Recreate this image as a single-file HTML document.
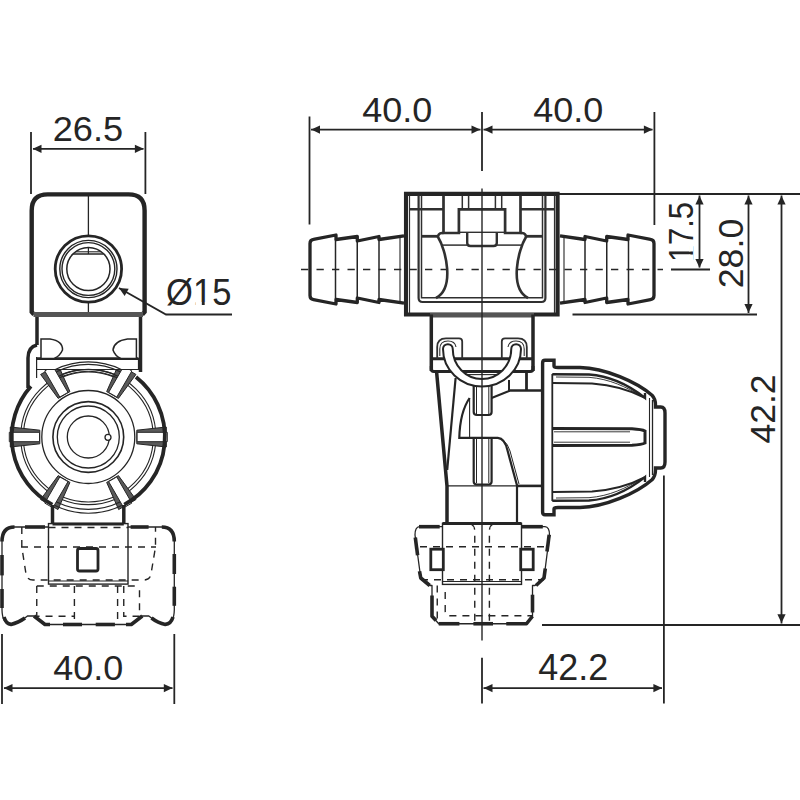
<!DOCTYPE html>
<html><head><meta charset="utf-8"><style>
html,body{margin:0;padding:0;background:#fff;}
svg{display:block;}
text{font-family:"Liberation Sans",sans-serif;fill:#252525;}
</style></head><body>
<svg width="800" height="800" viewBox="0 0 800 800">
<defs><clipPath id="kA" clipPathUnits="userSpaceOnUse"><path clip-rule="evenodd" d="M-60,-160 H400 V60 H-60 Z M7,-9 V2 H24.8 V-9 Z M34.2,-9 V2 H53 V-9 Z"/></clipPath><clipPath id="kB" clipPathUnits="userSpaceOnUse"><path clip-rule="evenodd" d="M-60,-160 H400 V60 H-60 Z M85,-9 V2 H103.3 V-9 Z M111.7,-9 V2 H131 V-9 Z"/></clipPath></defs>
<rect width="800" height="800" fill="#fff"/>
<circle cx="88.30" cy="437.00" r="67.60" stroke="#252525" stroke-width="1.1" fill="none" />
<circle cx="88.30" cy="437.00" r="65.00" stroke="#252525" stroke-width="1.1" fill="none" />
<circle cx="88.30" cy="437.00" r="46.50" stroke="#252525" stroke-width="1.3" fill="none" />
<circle cx="88.30" cy="437.00" r="35.40" stroke="#252525" stroke-width="1.6" fill="none" />
<circle cx="88.30" cy="437.00" r="31.00" stroke="#252525" stroke-width="1.3" fill="none" />
<circle cx="88.30" cy="437.00" r="21.00" stroke="#252525" stroke-width="1.3" fill="none" />
<circle cx="108.00" cy="437.30" r="3.00" stroke="#252525" stroke-width="1.3" fill="#fff" />
<path d="M136.80,443.80 L166.30,447.00 L166.30,427.00 L136.80,430.20 Z" stroke="#252525" stroke-width="1.0" fill="#5a5a5a" />
<path d="M137.10,441.70 L167.30,441.70 L167.30,432.30 L137.10,432.30 Z" stroke="#252525" stroke-width="1.0" fill="#fff" />
<path d="M106.66,482.40 L118.64,509.55 L135.96,499.55 L118.44,475.60 Z" stroke="#252525" stroke-width="1.0" fill="#5a5a5a" />
<path d="M108.63,481.61 L123.73,507.77 L131.87,503.07 L116.77,476.91 Z" stroke="#252525" stroke-width="1.0" fill="#fff" />
<path d="M58.16,475.60 L40.64,499.55 L57.96,509.55 L69.94,482.40 Z" stroke="#252525" stroke-width="1.0" fill="#5a5a5a" />
<path d="M59.83,476.91 L44.73,503.07 L52.87,507.77 L67.97,481.61 Z" stroke="#252525" stroke-width="1.0" fill="#fff" />
<path d="M39.80,430.20 L10.30,427.00 L10.30,447.00 L39.80,443.80 Z" stroke="#252525" stroke-width="1.0" fill="#5a5a5a" />
<path d="M39.50,432.30 L9.30,432.30 L9.30,441.70 L39.50,441.70 Z" stroke="#252525" stroke-width="1.0" fill="#fff" />
<path d="M69.94,391.60 L57.96,364.45 L40.64,374.45 L58.16,398.40 Z" stroke="#252525" stroke-width="1.0" fill="#5a5a5a" />
<path d="M67.97,392.39 L52.87,366.23 L44.73,370.93 L59.83,397.09 Z" stroke="#252525" stroke-width="1.0" fill="#fff" />
<path d="M118.44,398.40 L135.96,374.45 L118.64,364.45 L106.66,391.60 Z" stroke="#252525" stroke-width="1.0" fill="#5a5a5a" />
<path d="M116.77,397.09 L131.87,370.93 L123.73,366.23 L108.63,392.39 Z" stroke="#252525" stroke-width="1.0" fill="#fff" />
<path d="M135.98,377.05 A76.6,76.6 0 0 1 124.26,504.63" stroke="#252525" stroke-width="3.8" fill="none" />
<path d="M52.34,504.63 A76.6,76.6 0 0 1 30.93,386.24" stroke="#252525" stroke-width="3.8" fill="none" />
<path d="M120.04,502.07 A72.4,72.4 0 0 1 56.56,502.07" stroke="#252525" stroke-width="1.1" fill="none" />
<path d="M121.70,505.49 A76.2,76.2 0 0 1 54.90,505.49" stroke="#252525" stroke-width="1.1" fill="none" />
<path d="M37,345 Q28,347 28,358 L28,388" stroke="#252525" stroke-width="3.5" fill="none" />
<line x1="36.60" y1="357.00" x2="36.60" y2="378.00" stroke="#252525" stroke-width="1.2" />
<path d="M36.6,358.5 L138.5,358.5 L138.5,369.5 L36.6,369.5 Z" stroke="#252525" stroke-width="1.2" fill="#fff" />
<line x1="36.60" y1="358.60" x2="138.50" y2="358.60" stroke="#252525" stroke-width="2.8" />
<path d="M55.38,369.50 A75.1,75.1 0 0 1 121.22,369.50" stroke="#252525" stroke-width="1.1" fill="none" />
<path d="M56.47,371.75 A72.6,72.6 0 0 1 120.13,371.75" stroke="#252525" stroke-width="1.1" fill="none" />
<path d="M58.67,376.24 A67.6,67.6 0 0 1 117.93,376.24" stroke="#252525" stroke-width="1.1" fill="none" />
<path d="M59.46,377.86 A65.8,65.8 0 0 1 117.14,377.86" stroke="#252525" stroke-width="1.1" fill="none" />
<path d="M37,315.5 L37,345" stroke="#252525" stroke-width="3.5" fill="none" />
<path d="M140.5,315.5 L140.5,372" stroke="#252525" stroke-width="3.5" fill="none" />
<path d="M41,339 L50,339 Q63,341 62.5,350 Q60,356 54,358.5 L41,358.5 Z" stroke="#252525" stroke-width="1.5" fill="#fff" />
<path d="M136.4,339 L127.5,339 Q114,341 113,350 Q115,356 121,358.5 L136.4,358.5 Z" stroke="#252525" stroke-width="1.5" fill="#fff" />
<path d="M34,314.5 L31.7,312 L31.7,210.5 Q31.7,194.4 47.7,194.4 L128.6,194.4 Q144.6,194.4 144.6,210.5 L144.6,312 L142.3,314.5" stroke="#252525" stroke-width="4.4" fill="#fff" />
<rect x="33.5" y="312" width="109.5" height="5" fill="#555"/>
<line x1="88.40" y1="196.00" x2="88.40" y2="235.00" stroke="#252525" stroke-width="1.3" />
<line x1="88.40" y1="303.00" x2="88.40" y2="312.00" stroke="#252525" stroke-width="1.3" />
<circle cx="88.40" cy="269.00" r="33.20" stroke="#252525" stroke-width="2.8" fill="none" />
<circle cx="88.40" cy="269.00" r="28.60" stroke="#252525" stroke-width="1.4" fill="none" />
<circle cx="88.40" cy="269.00" r="26.40" stroke="#252525" stroke-width="1.4" fill="none" />
<circle cx="88.40" cy="269.00" r="21.60" stroke="#252525" stroke-width="1.5" fill="none" />
<line x1="73.00" y1="254.00" x2="103.80" y2="254.00" stroke="#252525" stroke-width="1.5" />
<line x1="75.50" y1="251.80" x2="101.30" y2="251.80" stroke="#252525" stroke-width="1.1" />
<line x1="88.40" y1="247.50" x2="88.40" y2="254.00" stroke="#252525" stroke-width="1.2" />
<line x1="52.50" y1="505.00" x2="52.50" y2="524.00" stroke="#252525" stroke-width="3.5" />
<line x1="123.80" y1="505.00" x2="123.80" y2="524.00" stroke="#252525" stroke-width="3.5" />
<path d="M48.5,527 L14.5,527 Q2,527 2,539.5 L2,610 Q2.3,624 11,624.4 Q20.3,622 27.5,616 L34,616 L45,624.5 L131.3,624.5 L142.3,616 L148.8,616 Q156,622 165.3,624.4 Q174,624 174.3,610 L174.3,539.5 Q174.3,527 161.8,527 L128,527" stroke="#252525" stroke-width="1.3" fill="none" />
<path d="M2,541.6 Q2,527 14.5,527" stroke="#252525" stroke-width="3.6" fill="none" stroke-linecap="butt" stroke-linejoin="round"/>
<path d="M25,527 L45,527" stroke="#252525" stroke-width="3.6" fill="none" stroke-linecap="butt" stroke-linejoin="round"/>
<path d="M130.6,527 L148.6,527" stroke="#252525" stroke-width="3.6" fill="none" stroke-linecap="butt" stroke-linejoin="round"/>
<path d="M161.8,527 Q174.3,527 174.3,541.5" stroke="#252525" stroke-width="3.6" fill="none" stroke-linecap="butt" stroke-linejoin="round"/>
<path d="M2,555 L2,575.4" stroke="#252525" stroke-width="3.6" fill="none" stroke-linecap="butt" stroke-linejoin="round"/>
<path d="M2,589 L2,608" stroke="#252525" stroke-width="3.6" fill="none" stroke-linecap="butt" stroke-linejoin="round"/>
<path d="M174.3,554 L174.3,574" stroke="#252525" stroke-width="3.6" fill="none" stroke-linecap="butt" stroke-linejoin="round"/>
<path d="M174.3,586.7 L174.3,605.8" stroke="#252525" stroke-width="3.6" fill="none" stroke-linecap="butt" stroke-linejoin="round"/>
<path d="M4,617 Q6,624 11,624.4 Q18,623 25,618" stroke="#252525" stroke-width="3.6" fill="none" stroke-linecap="butt" stroke-linejoin="round"/>
<path d="M34,616 L45,624.5 L50,624.5" stroke="#252525" stroke-width="3.6" fill="none" stroke-linecap="butt" stroke-linejoin="round"/>
<path d="M63,624.5 L82,624.5" stroke="#252525" stroke-width="3.6" fill="none" stroke-linecap="butt" stroke-linejoin="round"/>
<path d="M95.7,624.5 L114.9,624.5" stroke="#252525" stroke-width="3.6" fill="none" stroke-linecap="butt" stroke-linejoin="round"/>
<path d="M126,624.5 L131.3,624.5 L142.3,616" stroke="#252525" stroke-width="3.6" fill="none" stroke-linecap="butt" stroke-linejoin="round"/>
<path d="M151.5,618 Q158,623 165.3,624.4 Q171,624 173,617" stroke="#252525" stroke-width="3.6" fill="none" stroke-linecap="butt" stroke-linejoin="round"/>
<rect x="48.5" y="523.6" width="79.5" height="60.5" fill="none" stroke="#252525" stroke-width="1.4"/>
<line x1="48.50" y1="581.00" x2="128.00" y2="581.00" stroke="#252525" stroke-width="1.1" />
<line x1="48.50" y1="527.50" x2="128.00" y2="527.50" stroke="#252525" stroke-width="1.4" stroke-dasharray="7,6"/>
<path d="M21.8,527 L21.8,547 L26,574 Q27,580 33,580 L144,580 Q150,580 151,574 L155.5,547 L155.5,527" stroke="#252525" stroke-width="1.4" fill="none" stroke-dasharray="7,6"/>
<line x1="21.00" y1="547.00" x2="156.00" y2="547.00" stroke="#252525" stroke-width="1.4" stroke-dasharray="7,6"/>
<rect x="77.5" y="548.5" width="20.5" height="22.5" rx="2" fill="#fff" stroke="#252525" stroke-width="2.8"/>
<line x1="36.75" y1="586.00" x2="139.50" y2="586.00" stroke="#252525" stroke-width="1.4" stroke-dasharray="7,6"/>
<path d="M36.75,586 L36.75,616.2 L74.4,616.2" stroke="#252525" stroke-width="1.4" fill="none" stroke-dasharray="7,6"/>
<line x1="74.40" y1="586.00" x2="74.40" y2="624.00" stroke="#252525" stroke-width="1.4" stroke-dasharray="7,6"/>
<line x1="117.60" y1="586.00" x2="117.60" y2="624.00" stroke="#252525" stroke-width="1.4" stroke-dasharray="7,6"/>
<path d="M123.75,586 L123.75,616.2 L139.5,616.2 L139.5,586" stroke="#252525" stroke-width="1.4" fill="none" stroke-dasharray="7,6"/>
<line x1="52.50" y1="524.00" x2="123.80" y2="524.00" stroke="#252525" stroke-width="2.8" />
<line x1="301.00" y1="269.50" x2="663.00" y2="269.50" stroke="#252525" stroke-width="1.4" stroke-dasharray="7.3,8.2"/>
<path d="M404.00,235.80 L379.00,239.50 L379.00,236.50 L357.30,241.00 L357.30,236.50 L336.00,239.50 L336.00,235.00 L313.50,239.40 Q310.00,240 310.00,243.5 L310.00,295.5 Q310.00,299 313.50,299.60 L336.00,304.00 L336.00,299.50 L357.30,302.50 L357.30,298.00 L379.00,302.50 L379.00,299.50 L404.00,303.20" stroke="#252525" stroke-width="3.3" fill="none" stroke-linejoin="round"/>
<line x1="335.50" y1="239.50" x2="335.50" y2="299.50" stroke="#252525" stroke-width="1.5" />
<line x1="357.25" y1="239.50" x2="357.25" y2="299.50" stroke="#252525" stroke-width="1.5" />
<line x1="379.00" y1="239.50" x2="379.00" y2="299.50" stroke="#252525" stroke-width="1.5" />
<line x1="400.00" y1="236.50" x2="400.00" y2="302.50" stroke="#252525" stroke-width="1.1" />
<path d="M560.00,235.80 L585.00,239.50 L585.00,236.50 L606.70,241.00 L606.70,236.50 L628.00,239.50 L628.00,235.00 L650.50,239.40 Q654.00,240 654.00,243.5 L654.00,295.5 Q654.00,299 650.50,299.60 L628.00,304.00 L628.00,299.50 L606.70,302.50 L606.70,298.00 L585.00,302.50 L585.00,299.50 L560.00,303.20" stroke="#252525" stroke-width="3.3" fill="none" stroke-linejoin="round"/>
<line x1="628.50" y1="239.50" x2="628.50" y2="299.50" stroke="#252525" stroke-width="1.5" />
<line x1="606.75" y1="239.50" x2="606.75" y2="299.50" stroke="#252525" stroke-width="1.5" />
<line x1="585.00" y1="239.50" x2="585.00" y2="299.50" stroke="#252525" stroke-width="1.5" />
<line x1="564.00" y1="236.50" x2="564.00" y2="302.50" stroke="#252525" stroke-width="1.1" />
<path d="M406,193.9 L557.6,193.9 L557.6,314.5 L406,314.5 Z" stroke="#252525" stroke-width="4.1" fill="none" />
<rect x="430" y="313" width="104" height="4.5" fill="#555"/>
<path d="M409.5,195.5 L409.5,313" stroke="#303030" stroke-width="1.2" fill="none" />
<path d="M554.50,195.5 L554.50,313" stroke="#303030" stroke-width="1.2" fill="none" />
<path d="M418.6,195.5 L418.6,298 Q418.6,302 422.6,302 L482,302" stroke="#303030" stroke-width="2.2" fill="none" />
<path d="M545.40,195.5 L545.40,298 Q545.40,302 541.40,302 L482.00,302" stroke="#303030" stroke-width="2.2" fill="none" />
<path d="M421.5,195.5 L421.5,297.7 L482,297.7" stroke="#303030" stroke-width="1.5" fill="none" />
<path d="M542.50,195.5 L542.50,297.7 L482.00,297.7" stroke="#303030" stroke-width="1.5" fill="none" />
<path d="M409.5,209.2 L443.5,209.2" stroke="#303030" stroke-width="2.6" fill="none" />
<path d="M554.50,209.2 L520.50,209.2" stroke="#303030" stroke-width="2.6" fill="none" />
<path d="M443.5,195.5 L443.5,233 L458.9,233 L458.9,209.3 L482,209.3" stroke="#303030" stroke-width="2.7" fill="none" />
<path d="M520.50,195.5 L520.50,233 L505.10,233 L505.10,209.3 L482.00,209.3" stroke="#303030" stroke-width="2.7" fill="none" />
<path d="M458.9,232.3 L482,232.3" stroke="#303030" stroke-width="1.4" fill="none" />
<path d="M505.10,232.3 L482.00,232.3" stroke="#303030" stroke-width="1.4" fill="none" />
<path d="M462.3,195.5 L462.3,209.5" stroke="#303030" stroke-width="1.5" fill="none" />
<path d="M501.70,195.5 L501.70,209.5" stroke="#303030" stroke-width="1.5" fill="none" />
<path d="M468.6,195.5 L468.6,209.5" stroke="#303030" stroke-width="1.5" fill="none" />
<path d="M495.40,195.5 L495.40,209.5" stroke="#303030" stroke-width="1.5" fill="none" />
<path d="M421.5,236.3 L438,236.3" stroke="#303030" stroke-width="2.8" fill="none" />
<path d="M542.50,236.3 L526.00,236.3" stroke="#303030" stroke-width="2.8" fill="none" />
<path d="M467.2,233 L467.2,243 Q467.2,246 470.5,246 L482,246" stroke="#303030" stroke-width="2.4" fill="none" />
<path d="M496.80,233 L496.80,243 Q496.80,246 493.50,246 L482.00,246" stroke="#303030" stroke-width="2.4" fill="none" />
<path d="M442,245.1 L467.2,245.1" stroke="#303030" stroke-width="1.5" fill="none" />
<path d="M522.00,245.1 L496.80,245.1" stroke="#303030" stroke-width="1.5" fill="none" />
<path d="M443.5,233 L442,233 Q438,233.5 438,237 C446,250 455,288 436,298" stroke="#303030" stroke-width="2.6" fill="none" />
<path d="M520.50,233 L522.00,233 Q526.00,233.5 526.00,237 C518.00,250 509.00,288 528.00,298" stroke="#303030" stroke-width="2.6" fill="none" />
<line x1="431.30" y1="314.50" x2="431.30" y2="371.00" stroke="#252525" stroke-width="3.5" />
<line x1="533.00" y1="314.50" x2="533.00" y2="371.00" stroke="#252525" stroke-width="3.5" />
<path d="M431.3,358.7 L533,358.7" stroke="#252525" stroke-width="3" fill="none" />
<path d="M431.3,366 L431.3,369 Q431.3,371.5 434,371.5 L530,371.5 Q533,371.5 533,369 L533,366" stroke="#252525" stroke-width="3" fill="none" />
<path d="M437.2,358.7 L437.2,347 Q437.2,338.3 446,338.3 L459,338.3 Q462.2,338.3 462.2,341.5 L462.2,358.7" stroke="#303030" stroke-width="1.8" fill="none" />
<path d="M526.80,358.7 L526.80,347 Q526.80,338.3 518.00,338.3 L505.00,338.3 Q501.80,338.3 501.80,341.5 L501.80,358.7" stroke="#303030" stroke-width="1.8" fill="none" />
<path d="M439.8,356 L439.8,349 Q439.8,341 448,341 Q455,341 456,347" stroke="#303030" stroke-width="1.1" fill="none" />
<path d="M524.20,356 L524.20,349 Q524.20,341 516.00,341 Q509.00,341 508.00,347" stroke="#303030" stroke-width="1.1" fill="none" />
<path d="M436.6,372 L447,486 L447,523.4" stroke="#252525" stroke-width="3.5" fill="none" />
<path d="M455.6,378 L447.2,470" stroke="#252525" stroke-width="2.2" fill="none" />
<path d="M473.7,380 L473.7,412 Q473.7,415 477,415 L488.5,415 Q491.6,415 491.6,412 L491.6,380" stroke="#252525" stroke-width="2.2" fill="none" />
<line x1="476.50" y1="381.00" x2="476.50" y2="414.00" stroke="#252525" stroke-width="1.0" />
<line x1="488.80" y1="381.00" x2="488.80" y2="414.00" stroke="#252525" stroke-width="1.0" />
<line x1="468.00" y1="374.60" x2="498.00" y2="374.60" stroke="#252525" stroke-width="1.1" />
<path d="M443,349 A39,37.4 0 0 0 521,349 A4.875,4.875 0 0 0 511.25,349 A29.25,30 0 0 1 452.75,349 A4.875,4.875 0 0 0 443,349 Z" stroke="#252525" stroke-width="2.0" fill="#fff" />
<path d="M491.6,398 L509,391 L509,380" stroke="#252525" stroke-width="2.0" fill="none" />
<path d="M509,390.5 L543.2,390.5" stroke="#252525" stroke-width="2.6" fill="none" />
<line x1="526.50" y1="371.50" x2="526.50" y2="390.50" stroke="#252525" stroke-width="2.8" />
<line x1="543.20" y1="390.50" x2="543.20" y2="486.00" stroke="#252525" stroke-width="2.6" />
<path d="M469.6,398 Q460,412 459.3,437.8 L497.8,437.8 Q505,438.5 507.4,450.1 L517,485.5 L517,523.4" stroke="#252525" stroke-width="2.2" fill="none" />
<path d="M503,440 Q508,444 510,451 L519,484" stroke="#252525" stroke-width="1.0" fill="none" />
<line x1="469.60" y1="398.00" x2="469.60" y2="437.80" stroke="#252525" stroke-width="1.1" />
<path d="M473.7,437.8 L473.7,481.5 Q473.7,484.5 477,484.5 L488.5,484.5 Q491.6,484.5 491.6,481.5 L491.6,437.8" stroke="#252525" stroke-width="2.2" fill="none" />
<line x1="476.50" y1="439.00" x2="476.50" y2="483.00" stroke="#252525" stroke-width="1.0" />
<line x1="488.80" y1="439.00" x2="488.80" y2="483.00" stroke="#252525" stroke-width="1.0" />
<line x1="447.00" y1="485.90" x2="517.00" y2="485.90" stroke="#252525" stroke-width="1.3" />
<line x1="517.00" y1="485.90" x2="543.20" y2="485.90" stroke="#252525" stroke-width="2.6" />
<path d="M554,360.25 L545,360.25 Q542.6,360.25 542.6,363 L542.6,512 Q542.6,514.75 545,514.75 L554,514.75 L554,509 Q554,507.5 558,507.5 L580,507.5 C605,507 637,493 652,479.75 Q655.5,476 655.5,470 L655.5,468 L660.75,468 Q665,468 665,462 L665,413 Q665,407 660.75,407 L655.5,407 L655.5,405 Q655.5,399 652,395.25 C637,382 605,368 580,367.5 L558,367.5 Q554,367.5 554,366 Z" stroke="#252525" stroke-width="3.4" fill="#fff" />
<line x1="552.30" y1="374.00" x2="552.30" y2="501.00" stroke="#252525" stroke-width="1.8" />
<line x1="649.50" y1="398.00" x2="649.50" y2="477.00" stroke="#252525" stroke-width="1.1" />
<line x1="652.50" y1="400.00" x2="652.50" y2="475.00" stroke="#252525" stroke-width="1.3" />
<path d="M552.3,374.3 L589,374.5 C612,376 630,386 645,397.9 L645,393" stroke="#252525" stroke-width="2.4" fill="none" />
<path d="M553,383 L592,383.5 C612,385 630,390 645,397.9" stroke="#252525" stroke-width="2.2" fill="none" />
<path d="M556,377 L589,377.3 C610,379 626,387 641,396" stroke="#252525" stroke-width="0.9" fill="none" />
<path d="M552.3,500.70 L589,500.50 C612,499.00 630,489.00 645,477.10 L645,482.00" stroke="#252525" stroke-width="2.4" fill="none" />
<path d="M553,492.00 L592,491.50 C612,490.00 630,485.00 645,477.10" stroke="#252525" stroke-width="2.2" fill="none" />
<path d="M556,498.00 L589,497.70 C610,496.00 626,488.00 641,479.00" stroke="#252525" stroke-width="0.9" fill="none" />
<path d="M552.3,428.5 L632,428.8 Q642,429.5 645,431 L645,443 Q642,444.5 632,445.2 L552.3,445.5" stroke="#252525" stroke-width="3.0" fill="none" />
<line x1="554.00" y1="431.80" x2="630.00" y2="431.80" stroke="#252525" stroke-width="0.9" />
<line x1="554.00" y1="442.20" x2="630.00" y2="442.20" stroke="#252525" stroke-width="0.9" />
<path d="M442.5,526.7 L419.5,526.7 Q415,527 415,535 L420.75,578 L429.75,585.5 L432,585.5 L432,616.25 L438.75,623.75 L526.5,623.75 L532.5,616.25 L532.5,585.5 L535,585.5 L544,578 L549.5,535 Q549.5,527 545,526.7 L521.5,526.7" stroke="#252525" stroke-width="1.3" fill="none" stroke-linejoin="round"/>
<path d="M419,526.7 L439.7,526.7" stroke="#252525" stroke-width="3.6" fill="none" stroke-linecap="butt" stroke-linejoin="round"/>
<path d="M522,526.7 L542.8,526.7" stroke="#252525" stroke-width="3.6" fill="none" stroke-linecap="butt" stroke-linejoin="round"/>
<path d="M415.3,537.5 L417.6,555.3" stroke="#252525" stroke-width="3.6" fill="none" stroke-linecap="butt" stroke-linejoin="round"/>
<path d="M419.5,571.25 L420.75,578 L429.75,585.5" stroke="#252525" stroke-width="3.6" fill="none" stroke-linecap="butt" stroke-linejoin="round"/>
<path d="M549.2,534.7 L547,551.6" stroke="#252525" stroke-width="3.6" fill="none" stroke-linecap="butt" stroke-linejoin="round"/>
<path d="M545.3,568.4 L544,578 L536,585.5" stroke="#252525" stroke-width="3.6" fill="none" stroke-linecap="butt" stroke-linejoin="round"/>
<path d="M432,595.6 L432,616.25 L436,620.5" stroke="#252525" stroke-width="3.6" fill="none" stroke-linecap="butt" stroke-linejoin="round"/>
<path d="M532.5,594.7 L532.5,612.5" stroke="#252525" stroke-width="3.6" fill="none" stroke-linecap="butt" stroke-linejoin="round"/>
<path d="M438.75,623.75 L459.4,623.75" stroke="#252525" stroke-width="3.6" fill="none" stroke-linecap="butt" stroke-linejoin="round"/>
<path d="M473.4,623.75 L493,623.75" stroke="#252525" stroke-width="3.6" fill="none" stroke-linecap="butt" stroke-linejoin="round"/>
<path d="M506.25,623.75 L526.5,623.75 L532.5,616.25" stroke="#252525" stroke-width="3.6" fill="none" stroke-linecap="butt" stroke-linejoin="round"/>
<rect x="442.5" y="523.4" width="79" height="61" fill="#fff" stroke="#252525" stroke-width="1.4"/>
<line x1="442.50" y1="581.50" x2="521.50" y2="581.50" stroke="#252525" stroke-width="1.1" />
<line x1="442.50" y1="523.50" x2="521.50" y2="523.50" stroke="#252525" stroke-width="3" />
<line x1="420.00" y1="546.80" x2="545.00" y2="546.80" stroke="#252525" stroke-width="1.4" stroke-dasharray="7,6"/>
<line x1="421.00" y1="579.80" x2="544.00" y2="579.80" stroke="#252525" stroke-width="1.4" stroke-dasharray="7,6"/>
<rect x="430.8" y="549.2" width="12.5" height="20.5" fill="#fff" stroke="#252525" stroke-width="2.8"/>
<rect x="520.7" y="549.2" width="12.5" height="20.5" fill="#fff" stroke="#252525" stroke-width="2.8"/>
<path d="M471,524 Q474.75,526 474.75,531 L474.75,625" stroke="#252525" stroke-width="1.4" fill="none" stroke-dasharray="7,6"/>
<path d="M493,524 Q489.4,526 489.4,531 L489.4,625" stroke="#252525" stroke-width="1.4" fill="none" stroke-dasharray="7,6"/>
<path d="M445.2,592 L445.2,611 Q445.2,615.8 450,615.8 L532,615.8" stroke="#252525" stroke-width="1.4" fill="none" stroke-dasharray="7,6"/>
<line x1="437.25" y1="585.50" x2="437.25" y2="620.00" stroke="#252525" stroke-width="1.4" stroke-dasharray="7,6"/>
<line x1="482.00" y1="188.50" x2="482.00" y2="640.50" stroke="#252525" stroke-width="1.4" />
<line x1="31.00" y1="132.00" x2="31.00" y2="194.00" stroke="#252525" stroke-width="1.8" />
<line x1="145.40" y1="132.00" x2="145.40" y2="194.00" stroke="#252525" stroke-width="1.8" />
<line x1="33.00" y1="148.80" x2="143.50" y2="148.80" stroke="#252525" stroke-width="1.8" />
<polygon points="32.70,148.80 41.50,144.70 41.50,152.90" fill="#252525"/>
<polygon points="143.70,148.80 134.90,152.90 134.90,144.70" fill="#252525"/>
<text x="0" y="0" font-size="100" transform="matrix(0.3622 0 0 0.3521 52.69 140.65)">26.5</text>
<path d="M119,288 L166,314.5 L232,314.5" stroke="#252525" stroke-width="1.8" fill="none" />
<polygon points="119.00,288.00 128.68,288.75 124.65,295.89" fill="#252525"/>
<text x="0" y="0" font-size="100" transform="matrix(0.3453 0 0 0.3649 166.12 305.27)" clip-path="url(#kB)">Ø15</text>
<line x1="2.00" y1="634.00" x2="2.00" y2="704.00" stroke="#252525" stroke-width="1.8" />
<line x1="174.30" y1="634.00" x2="174.30" y2="704.00" stroke="#252525" stroke-width="1.8" />
<line x1="4.00" y1="688.10" x2="172.50" y2="688.10" stroke="#252525" stroke-width="1.8" />
<polygon points="3.70,688.10 12.50,684.00 12.50,692.20" fill="#252525"/>
<polygon points="172.60,688.10 163.80,692.20 163.80,684.00" fill="#252525"/>
<text x="0" y="0" font-size="100" transform="matrix(0.3598 0 0 0.3592 53.28 680.04)">40.0</text>
<line x1="309.50" y1="116.50" x2="309.50" y2="224.50" stroke="#252525" stroke-width="1.8" />
<line x1="482.00" y1="112.00" x2="482.00" y2="171.00" stroke="#252525" stroke-width="1.8" />
<line x1="654.40" y1="112.00" x2="654.40" y2="225.00" stroke="#252525" stroke-width="1.8" />
<line x1="311.00" y1="129.60" x2="480.50" y2="129.60" stroke="#252525" stroke-width="1.8" />
<polygon points="311.20,129.60 320.00,125.50 320.00,133.70" fill="#252525"/>
<polygon points="480.30,129.60 471.50,133.70 471.50,125.50" fill="#252525"/>
<line x1="483.50" y1="129.60" x2="652.50" y2="129.60" stroke="#252525" stroke-width="1.8" />
<polygon points="483.70,129.60 492.50,125.50 492.50,133.70" fill="#252525"/>
<polygon points="652.70,129.60 643.90,133.70 643.90,125.50" fill="#252525"/>
<text x="0" y="0" font-size="100" transform="matrix(0.3598 0 0 0.3592 362.28 122.44)">40.0</text>
<text x="0" y="0" font-size="100" transform="matrix(0.3598 0 0 0.3592 533.28 122.44)">40.0</text>
<line x1="557.00" y1="194.00" x2="800.00" y2="194.00" stroke="#252525" stroke-width="1.8" />
<line x1="699.50" y1="195.50" x2="699.50" y2="267.50" stroke="#252525" stroke-width="1.8" />
<polygon points="699.50,195.70 703.60,204.50 695.40,204.50" fill="#252525"/>
<polygon points="699.50,267.80 695.40,259.00 703.60,259.00" fill="#252525"/>
<line x1="671.00" y1="269.50" x2="710.00" y2="269.50" stroke="#252525" stroke-width="1.8" />
<text x="0" y="0" font-size="100" transform="matrix(0 -0.3089 0.3557 0 692.54 262.09)" clip-path="url(#kA)">17.5</text>
<line x1="572.50" y1="314.50" x2="757.00" y2="314.50" stroke="#252525" stroke-width="1.8" />
<line x1="748.50" y1="195.50" x2="748.50" y2="313.00" stroke="#252525" stroke-width="1.8" />
<polygon points="748.50,195.70 752.60,204.50 744.40,204.50" fill="#252525"/>
<polygon points="748.50,312.80 744.40,304.00 752.60,304.00" fill="#252525"/>
<text x="0" y="0" font-size="100" transform="matrix(0 -0.3575 0.3521 0 742.65 288.29)">28.0</text>
<line x1="781.50" y1="195.50" x2="781.50" y2="623.50" stroke="#252525" stroke-width="1.8" />
<polygon points="781.50,195.70 785.60,204.50 777.40,204.50" fill="#252525"/>
<polygon points="781.50,623.10 777.40,614.30 785.60,614.30" fill="#252525"/>
<line x1="542.00" y1="625.00" x2="800.00" y2="625.00" stroke="#252525" stroke-width="1.8" />
<text x="0" y="0" font-size="100" transform="matrix(0 -0.3543 0.3586 0 775.30 443.51)">42.2</text>
<line x1="482.00" y1="657.70" x2="482.00" y2="703.60" stroke="#252525" stroke-width="1.8" />
<line x1="663.90" y1="475.50" x2="663.90" y2="703.60" stroke="#252525" stroke-width="1.8" />
<line x1="483.50" y1="688.10" x2="662.00" y2="688.10" stroke="#252525" stroke-width="1.8" />
<polygon points="483.70,688.10 492.50,684.00 492.50,692.20" fill="#252525"/>
<polygon points="662.20,688.10 653.40,692.20 653.40,684.00" fill="#252525"/>
<text x="0" y="0" font-size="100" transform="matrix(0.3590 0 0 0.3643 538.28 680.40)">42.2</text>
</svg></body></html>
